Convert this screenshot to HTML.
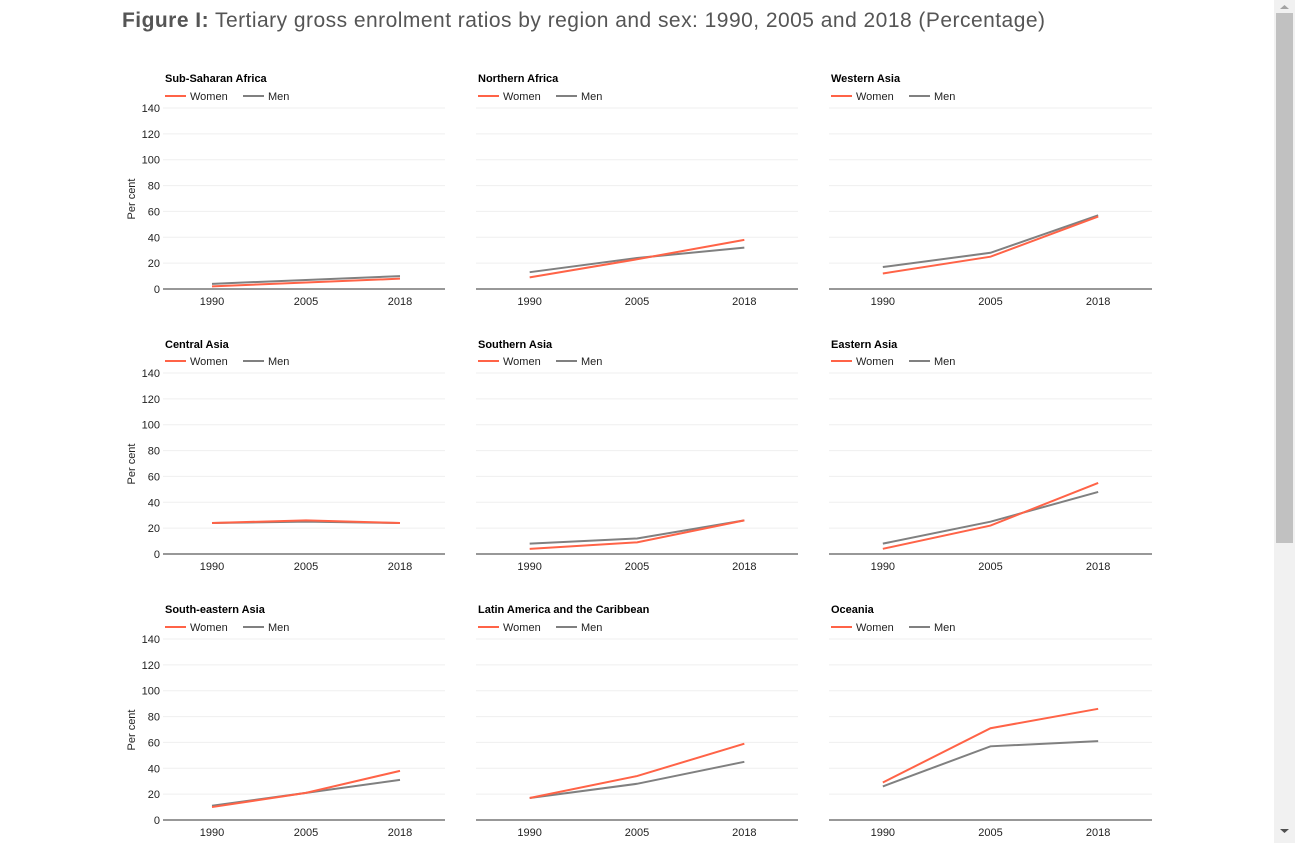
<!DOCTYPE html>
<html><head><meta charset="utf-8">
<style>
html,body{margin:0;padding:0;background:#fff;width:1295px;height:843px;overflow:hidden}
svg{display:block}
text{font-family:"Liberation Sans",Arial,sans-serif}
</style></head>
<body>
<svg id="chart" width="1295" height="843" xmlns="http://www.w3.org/2000/svg">
<text x="122" y="27" font-size="21" fill="#555" textLength="923" lengthAdjust="spacing"><tspan font-weight="bold">Figure I:</tspan> Tertiary gross enrolment ratios by region and sex: 1990, 2005 and 2018 (Percentage)</text>
<g>
<rect x="1274" y="0" width="21" height="843" fill="#f1f1f1"/>
<rect x="1276" y="13" width="17" height="530" fill="#c1c1c1"/>
<path d="M1280 9 L1284.5 5 L1289 9Z" fill="#a3a3a3"/>
<path d="M1280 829 L1284.5 833 L1289 829Z" fill="#505050"/>
</g>
</svg>
<script>
const years = ["1990","2005","2018"];
const regions = ["Sub-Saharan Africa","Northern Africa","Western Asia","Central Asia","Southern Asia","Eastern Asia","South-eastern Asia","Latin America and the Caribbean","Oceania"];
const women = [[2,5,8],[9,23,38],[12,25,56],[24,26,24],[4,9,26],[4,22,55],[10,21,38],[17,34,59],[29,71,86]];
const men = [[4,7,10],[13,24,32],[17,28,57],[24,25,24],[8,12,26],[8,25,48],[11,21,31],[17,28,45],[26,57,61]];
const yTicks = [0,20,40,60,80,100,120,140];

const NS="http://www.w3.org/2000/svg";
const svg=document.getElementById('chart');
function mk(tag,attrs,parent){const e=document.createElementNS(NS,tag);for(const k in attrs)e.setAttribute(k,attrs[k]);parent.appendChild(e);return e;}
const colX=[[163,445],[476,798],[829,1152]];
const rowY=[289,554,820];
const titleY=[78,344,609], legY=[96,361,627];
const yMax=140, plotH=181;
regions.forEach((name,i)=>{
  const c=i%3, r=Math.floor(i/3);
  const x0=colX[c][0], x1=colX[c][1], y0=rowY[r];
  const g=mk('g',{},svg);
  
  
  const ys=v=>y0-v/yMax*plotH;
  const bw=(x1-x0)/years.length;
  const xs=j=>x0+bw*(j+0.5)+(c===0?2:0);
  yTicks.forEach(t=>{
    if(t>0){const l=mk('line',{x1:x0,x2:x1,y1:ys(t),y2:ys(t),stroke:'#efefef','stroke-width':1},g);
    
    }
    if(c===0){const tx=mk('text',{x:x0-3,y:ys(t)+4,'font-size':11,'text-anchor':'end',fill:'#222'},g);tx.textContent=t;
    
    }
  });
  if(c===0){const yt=mk('text',{transform:`translate(135,${y0-90}) rotate(-90)`,'font-size':11,'text-anchor':'middle',fill:'#222'},g);yt.textContent='Per cent';
    
    }
  const ax=mk('line',{x1:x0,x2:x1,y1:y0,y2:y0,stroke:'#777','stroke-width':1.5},g);
  
  
  years.forEach((yv,j)=>{const t=mk('text',{x:xs(j),y:y0+16,'font-size':11,'text-anchor':'middle',fill:'#222'},g);t.textContent=yv;
    
    });
  const ti=mk('text',{x:x0+2,y:titleY[r]+4,'font-size':11,'font-weight':'bold',fill:'#000'},g);ti.textContent=name;
  
  
  [['Women','#ff6347',0],['Men','#808080',78]].forEach(([lab,col,off])=>{
    const lg=mk('g',{},g);
    
    
    mk('line',{x1:x0+2+off,x2:x0+23+off,y1:legY[r],y2:legY[r],stroke:col,'stroke-width':2},lg);
    const lt=mk('text',{x:x0+27+off,y:legY[r]+4,'font-size':11,fill:'#222'},lg);lt.textContent=lab;
  });
  [[men[i],'#808080','men'],[women[i],'#ff6347','women']].forEach(([vals,col,nm])=>{
    const p=mk('polyline',{points:vals.map((v,j)=>xs(j)+','+ys(v)).join(' '),fill:'none',stroke:col,'stroke-width':2},g);
    
    
  });
});
</script>
</body></html>
